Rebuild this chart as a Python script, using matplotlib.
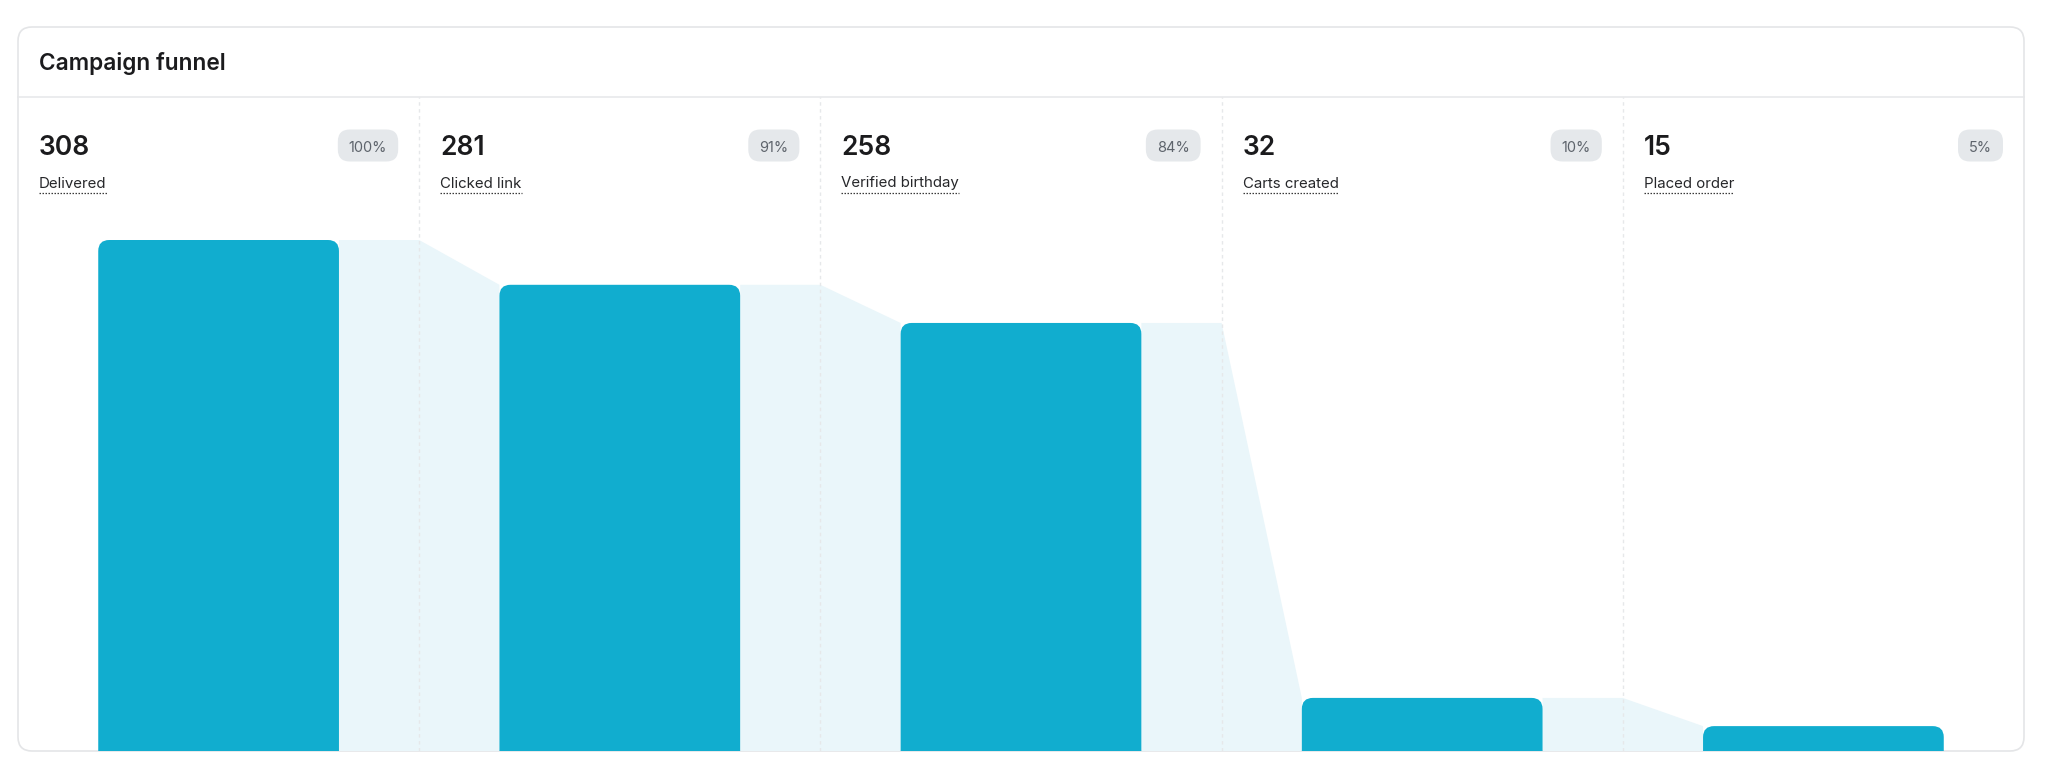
import matplotlib
matplotlib.use('Agg')
import matplotlib.pyplot as plt
from matplotlib.patches import FancyBboxPatch, Polygon

title = "Campaign funnel"
stages = ["Delivered", "Clicked link", "Verified birthday", "Carts created", "Placed order"]
counts = [308, 281, 258, 32, 15]
pct_labels = ["100%", "91%", "84%", "10%", "5%"]

plt.rcParams['font.family'] = ['Inter', 'DejaVu Sans']

W, H = 2048, 772
fig = plt.figure(figsize=(W / 100, H / 100), dpi=100)
fig.patch.set_facecolor('white')

card_l, card_r, card_t, card_b = 18, 2024, 27, 751
header_y = 97
bar_top_px = 240

BAR = '#11ADCF'
CONN = '#EAF6FA'
DARK = '#1B1B1D'

# pixel overlay
pix = fig.add_axes([0, 0, 1, 1], zorder=0)
pix.set_xlim(0, W)
pix.set_ylim(H, 0)
pix.axis('off')

card = FancyBboxPatch((card_l, card_t), card_r - card_l, card_b - card_t,
                      boxstyle="round,pad=0,rounding_size=14",
                      fc='white', ec='#E4E5E7', lw=1.2, zorder=0)
pix.add_patch(card)
pix.plot([card_l, card_r], [header_y, header_y], color='#E6E7E9', lw=1.1, zorder=1)
pix.text(39, 70, title, fontsize=16.3, weight='semibold', color=DARK, va='baseline')

# data axes
ax = fig.add_axes([card_l / W, (H - card_b) / H, (card_r - card_l) / W, (card_b - header_y) / H], zorder=1)
ax.patch.set_alpha(0)
ax.axis('off')
n = len(counts)
ax.set_xlim(-0.5, n - 0.5)
ymax = max(counts) * (card_b - header_y) / (card_b - bar_top_px)
ax.set_ylim(0, ymax)

p0 = ax.transData.transform((0, 0))
p1 = ax.transData.transform((1, 1))
px_x = p1[0] - p0[0]
px_y = p1[1] - p0[1]
asp = px_x / px_y
r_px = 11
r_x = r_px / px_x

bw = 0.6
for i, v in enumerate(counts):
    if i < n - 1:
        nv = counts[i + 1]
        poly = Polygon([(i + bw / 2, v), (i + 0.5, v), (i + 0.5 + (1 - bw) / 2, nv),
                        (i + 0.5 + (1 - bw) / 2, 0), (i + bw / 2, 0)],
                       closed=True, fc=CONN, ec='none', zorder=1)
        ax.add_patch(poly)
    ext = ymax * 0.05
    bar = FancyBboxPatch((i - bw / 2, -ext), bw, v + ext,
                         boxstyle=f"round,pad=0,rounding_size={r_x}",
                         mutation_aspect=asp,
                         fc=BAR, ec='none', zorder=2)
    ax.add_patch(bar)

for i in range(n - 1):
    ax.plot([i + 0.5, i + 0.5], [0, ymax], color='#E6E8EA', lw=1, ls=(0, (2.5, 2.5)), zorder=3)

fig.canvas.draw()
renderer = fig.canvas.get_renderer()

for i in range(n):
    cl = ax.transData.transform((i - 0.5, 0))[0]
    cr = ax.transData.transform((i + 0.5, 0))[0]
    pix.text(cl + 21, 155, f"{counts[i]}", fontsize=19, weight='semibold', color=DARK, va='baseline')
    lt = pix.text(cl + 21, 187.5, stages[i], fontsize=10.8, color='#26272A', va='baseline')
    bb = lt.get_window_extent(renderer)
    pix.plot([bb.x0, bb.x1], [192.5, 192.5], color='#3A3A3A', lw=0.9, ls=(0, (1.2, 1.2)))
    bt = pix.text(0, 152, pct_labels[i], fontsize=10.5, color='#5E646C', va='baseline', ha='center', zorder=3)
    tw = bt.get_window_extent(renderer).width
    bwid = tw + 22
    bx1 = cr - 21
    bx0 = bx1 - bwid
    badge = FancyBboxPatch((bx0, 129.5), bwid, 32, boxstyle="round,pad=0,rounding_size=12",
                           fc='#E5E8EB', ec='none', zorder=2)
    pix.add_patch(badge)
    bt.set_x((bx0 + bx1) / 2)

fig.savefig('out.png', dpi=100, facecolor='white')
